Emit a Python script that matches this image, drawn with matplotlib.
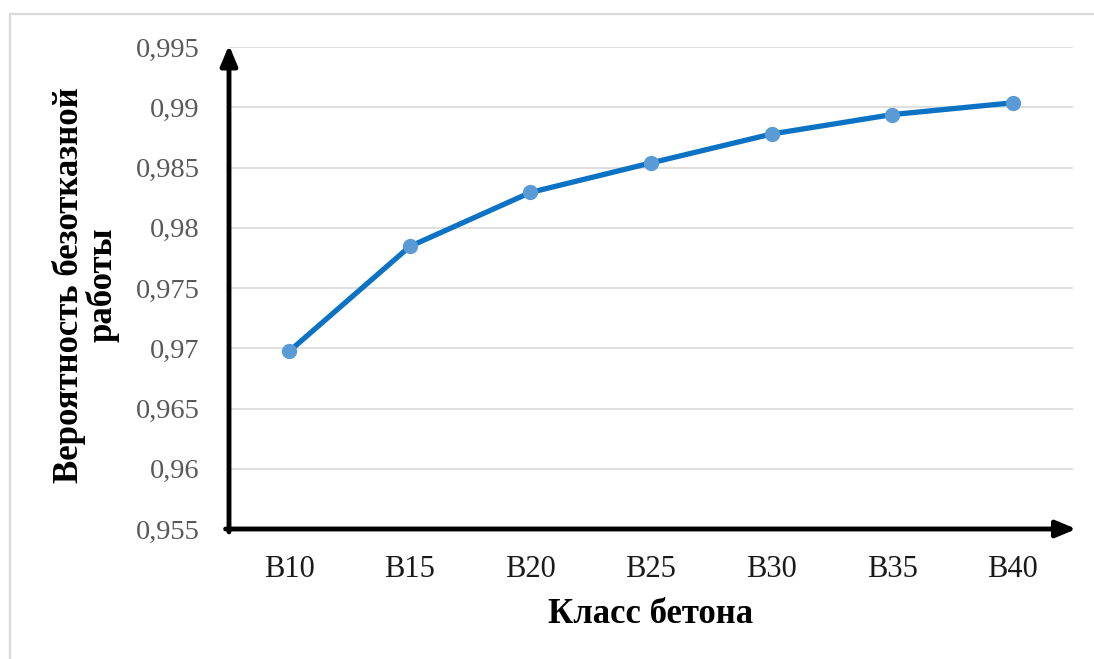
import matplotlib
matplotlib.use("Agg")
import matplotlib.pyplot as plt
from matplotlib.patches import Rectangle

# Data
classes = ["B10", "B15", "B20", "B25", "B30", "B35", "B40"]
reliability = [0.96975, 0.97845, 0.98293, 0.98538, 0.98778, 0.98939, 0.99037]
y_ticks = [0.955, 0.96, 0.965, 0.97, 0.975, 0.98, 0.985, 0.99, 0.995]
y_tick_labels = ["0,955", "0,96", "0,965", "0,97", "0,975", "0,98", "0,985", "0,99", "0,995"]

plt.rcParams["font.family"] = ["Liberation Serif", "DejaVu Serif"]

W, H = 1094, 659
fig = plt.figure(figsize=(W / 100, H / 100), dpi=100)
fig.patch.set_facecolor("white")

# light outer frame
fig.patches.append(Rectangle((10 / W, -0.1), 1.2, 1 - 14 / H + 0.1,
                             transform=fig.transFigure, fill=False,
                             edgecolor="#D9D9D9", linewidth=1.6, zorder=0))

left, right = 229 / W, 1073 / W
bottom, top = 1 - 529 / H, 1 - 47 / H
ax = fig.add_axes([left, bottom, right - left, top - bottom])

x = list(range(len(classes)))
ax.plot(x, reliability, color="#0B72C4", linewidth=3.8, zorder=3,
        marker="o", markersize=10, markerfacecolor="#5B9BD5",
        markeredgecolor="#5B9BD5", solid_capstyle="round")

ax.set_xlim(-0.5, len(classes) - 0.5)
ax.set_ylim(y_ticks[0], y_ticks[-1])
ax.set_xticks(x)
ax.set_xticklabels(classes, fontsize=22, color="#1A1A1A")
ax.set_yticks(y_ticks)
ax.set_yticklabels(y_tick_labels, fontsize=20.5, color="#595959")
ax.tick_params(axis="both", length=0)
ax.tick_params(axis="x", pad=19)
ax.tick_params(axis="y", pad=21)

ax.grid(axis="y", color="#DCDCDC", linewidth=1.3)
ax.set_axisbelow(True)
for s in ax.spines.values():
    s.set_visible(False)

# axes drawn as arrows
ax.annotate("", xy=(1.004, 0.0), xytext=(-0.004, 0.0), xycoords="axes fraction",
            arrowprops=dict(arrowstyle="-|>,head_length=1.2,head_width=0.5",
                            color="black", linewidth=3.5, shrinkA=0, shrinkB=0),
            annotation_clip=False)
ax.annotate("", xy=(0.0, 1.004), xytext=(0.0, -0.006), xycoords="axes fraction",
            arrowprops=dict(arrowstyle="-|>,head_length=1.2,head_width=0.5",
                            color="black", linewidth=3.5, shrinkA=0, shrinkB=0),
            annotation_clip=False)

ax.set_xlabel("Класс бетона", fontsize=25, fontweight="bold", labelpad=10)
fig.text(86 / W, 1 - 285 / H, "Вероятность безотказной\nработы", rotation=90,
         fontsize=25, fontweight="bold", ha="center", va="center",
         multialignment="center", linespacing=1.0)

fig.savefig("out.png", dpi=100, facecolor="white")
